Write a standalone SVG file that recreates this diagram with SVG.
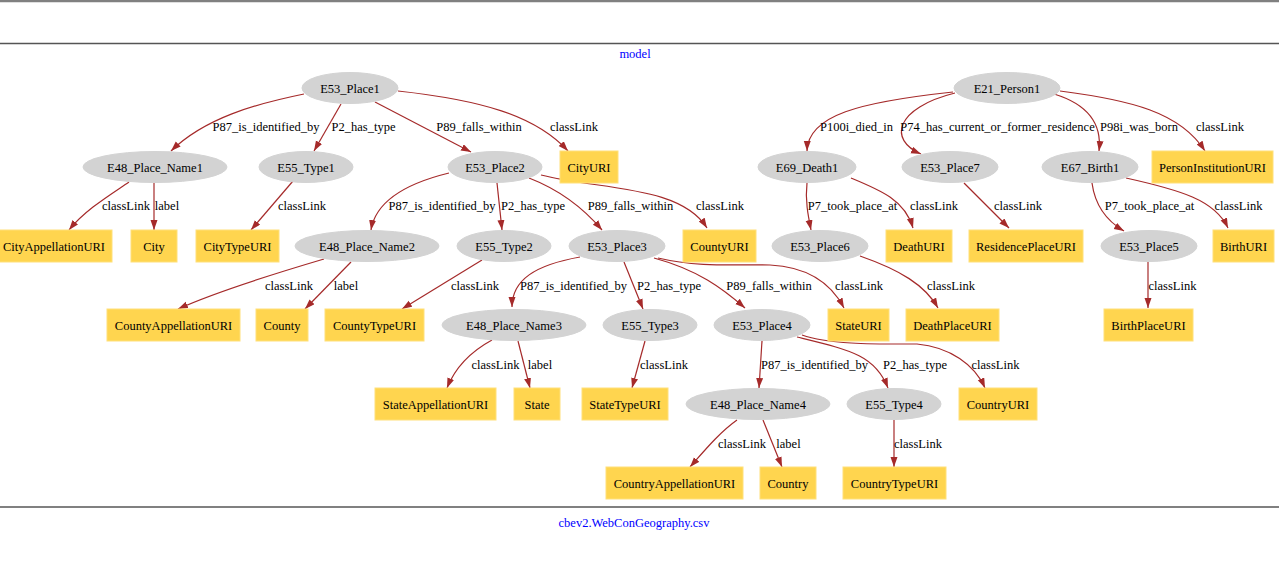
<svg xmlns="http://www.w3.org/2000/svg" width="1279" height="569" viewBox="0 0 1279 569">
<style>
text{font-family:"Liberation Serif","Times New Roman",serif;font-size:12.5px;fill:#000}
.t{text-anchor:middle}
.blue{fill:#0000ff}
ellipse{fill:#d3d3d3;stroke:#d3d3d3}
rect.b{fill:#ffd54f;stroke:#ffe07a}
#edges path{fill:none;stroke:#a52a2a;stroke-width:1.2;marker-end:url(#ah)}
</style>
<defs>
<marker id="ah" markerUnits="userSpaceOnUse" markerWidth="10" markerHeight="8" refX="10" refY="3.5" orient="auto">
<path d="M0,0 L10,3.5 L0,7 z" fill="#a52a2a"/>
</marker>
</defs>
<rect x="0" y="0" width="1279" height="569" fill="#fff"/>
<line x1="0" y1="1" x2="1279" y2="1" stroke="#808080" stroke-width="2.5"/>
<line x1="0" y1="43.5" x2="1279" y2="43.5" stroke="#555" stroke-width="1.5"/>
<line x1="0" y1="507" x2="1279" y2="507" stroke="#808080" stroke-width="2"/>
<text class="t blue" x="635" y="58">model</text>
<text class="t blue" x="634" y="527">cbev2.WebConGeography.csv</text>

<g id="edges">
<path d="M304,94 C255,104 205,118 171,151"/>
<path d="M341,104 L314,151"/>
<path d="M375,102 L471,152"/>
<path d="M398,91 C480,100 535,115 568,151"/>
<path d="M953,92 C860,102 808,115 807,151"/>
<path d="M955,93 C895,108 888,140 921,154"/>
<path d="M1054,94 C1090,105 1102,125 1099,151"/>
<path d="M1060,91 C1130,100 1180,112 1205,151"/>
<path d="M129,182 C110,195 85,210 69,230"/>
<path d="M154,183 L154,230"/>
<path d="M293,181 L251,230"/>
<path d="M449,173 C400,185 375,205 371,230"/>
<path d="M497,183 L502,230"/>
<path d="M529,178 C560,190 585,210 602,230"/>
<path d="M541,175 C600,190 680,185 707,228"/>
<path d="M324,259 C280,272 220,290 178,309"/>
<path d="M351,262 L305,309"/>
<path d="M482,260 L402,309"/>
<path d="M580,257 C535,265 512,280 512,307"/>
<path d="M624,262 L643,309"/>
<path d="M654,258 C698,270 722,288 745,308"/>
<path d="M658,258 C700,268 740,264 770,265 C810,267 832,285 844,308"/>
<path d="M807,183 C805,200 808,215 811,230"/>
<path d="M851,178 C880,190 905,200 913,228"/>
<path d="M964,183 L1009,228"/>
<path d="M1092,183 C1095,205 1105,220 1124,231"/>
<path d="M1126,178 C1180,190 1215,200 1228,228"/>
<path d="M860,256 C900,270 925,285 938,308"/>
<path d="M1148,262 L1148,308"/>
<path d="M492,340 C470,352 455,368 447,388"/>
<path d="M518,341 L530,388"/>
<path d="M645,341 L632,388"/>
<path d="M762,341 L759,388"/>
<path d="M797,337 C850,350 875,355 888,388"/>
<path d="M802,335 C830,345 880,344 917,344 C950,347 975,365 985,388"/>
<path d="M737,420 C720,432 705,450 690,467"/>
<path d="M763,420 L782,467"/>
<path d="M894,420 L894,467"/>
</g>
<g id="edge-labels">
<text class="t" x="266" y="131">P87_is_identified_by</text>
<text class="t" x="363.5" y="131">P2_has_type</text>
<text class="t" x="479" y="131">P89_falls_within</text>
<text class="t" x="574" y="131">classLink</text>
<text class="t" x="856.5" y="131">P100i_died_in</text>
<text class="t" x="997.5" y="131">P74_has_current_or_former_residence</text>
<text class="t" x="1139" y="131">P98i_was_born</text>
<text class="t" x="1220" y="131">classLink</text>
<text class="t" x="126" y="210">classLink</text>
<text class="t" x="167" y="210">label</text>
<text class="t" x="302" y="210">classLink</text>
<text class="t" x="442" y="210">P87_is_identified_by</text>
<text class="t" x="533" y="210">P2_has_type</text>
<text class="t" x="630.5" y="210">P89_falls_within</text>
<text class="t" x="720" y="210">classLink</text>
<text class="t" x="852.5" y="210">P7_took_place_at</text>
<text class="t" x="934" y="210">classLink</text>
<text class="t" x="1018" y="210">classLink</text>
<text class="t" x="1149.5" y="210">P7_took_place_at</text>
<text class="t" x="1238.5" y="210">classLink</text>
<text class="t" x="289" y="290">classLink</text>
<text class="t" x="346" y="290">label</text>
<text class="t" x="475" y="290">classLink</text>
<text class="t" x="573.5" y="290">P87_is_identified_by</text>
<text class="t" x="669" y="290">P2_has_type</text>
<text class="t" x="769" y="290">P89_falls_within</text>
<text class="t" x="859" y="290">classLink</text>
<text class="t" x="951" y="290">classLink</text>
<text class="t" x="1172.5" y="290">classLink</text>
<text class="t" x="495.5" y="369">classLink</text>
<text class="t" x="540" y="369">label</text>
<text class="t" x="664" y="369">classLink</text>
<text class="t" x="814.5" y="369">P87_is_identified_by</text>
<text class="t" x="915" y="369">P2_has_type</text>
<text class="t" x="995.5" y="369">classLink</text>
<text class="t" x="742" y="448">classLink</text>
<text class="t" x="788.5" y="448">label</text>
<text class="t" x="918" y="448">classLink</text>
</g>

<g id="E53_Place1"><ellipse cx="350" cy="88" rx="48" ry="15.5"/><text class="t" x="350" y="92.5">E53_Place1</text></g>
<g id="E21_Person1"><ellipse cx="1007" cy="88" rx="53" ry="15.5"/><text class="t" x="1007" y="92.5">E21_Person1</text></g>
<g id="E48_Place_Name1"><ellipse cx="155" cy="167" rx="72" ry="15.5"/><text class="t" x="155" y="171.5">E48_Place_Name1</text></g>
<g id="E55_Type1"><ellipse cx="306" cy="167" rx="47" ry="15.5"/><text class="t" x="306" y="171.5">E55_Type1</text></g>
<g id="E53_Place2"><ellipse cx="495" cy="167" rx="47" ry="15.5"/><text class="t" x="495" y="171.5">E53_Place2</text></g>
<g id="CityURI"><rect class="b" x="560" y="151" width="58" height="32"/><text class="t" x="589" y="171.5">CityURI</text></g>
<g id="E69_Death1"><ellipse cx="807" cy="167" rx="49" ry="15.5"/><text class="t" x="807" y="171.5">E69_Death1</text></g>
<g id="E53_Place7"><ellipse cx="950" cy="167" rx="48" ry="15.5"/><text class="t" x="950" y="171.5">E53_Place7</text></g>
<g id="E67_Birth1"><ellipse cx="1090" cy="167" rx="48" ry="15.5"/><text class="t" x="1090" y="171.5">E67_Birth1</text></g>
<g id="PersonInstitutionURI"><rect class="b" x="1152" y="151" width="121" height="32"/><text class="t" x="1212.5" y="171.5">PersonInstitutionURI</text></g>

<g id="CityAppellationURI"><rect class="b" x="-5" y="230" width="117" height="32"/><text class="t" x="54" y="250.5">CityAppellationURI</text></g>
<g id="City"><rect class="b" x="131" y="230" width="46" height="32"/><text class="t" x="154" y="250.5">City</text></g>
<g id="CityTypeURI"><rect class="b" x="196" y="230" width="83" height="32"/><text class="t" x="237.5" y="250.5">CityTypeURI</text></g>
<g id="E48_Place_Name2"><ellipse cx="367" cy="246" rx="72" ry="15.5"/><text class="t" x="367" y="250.5">E48_Place_Name2</text></g>
<g id="E55_Type2"><ellipse cx="504" cy="246" rx="47" ry="15.5"/><text class="t" x="504" y="250.5">E55_Type2</text></g>
<g id="E53_Place3"><ellipse cx="617" cy="246" rx="48" ry="15.5"/><text class="t" x="617" y="250.5">E53_Place3</text></g>
<g id="CountyURI"><rect class="b" x="683" y="230" width="73" height="32"/><text class="t" x="719.5" y="250.5">CountyURI</text></g>
<g id="E53_Place6"><ellipse cx="820" cy="246" rx="48" ry="15.5"/><text class="t" x="820" y="250.5">E53_Place6</text></g>
<g id="DeathURI"><rect class="b" x="886" y="230" width="66" height="32"/><text class="t" x="919" y="250.5">DeathURI</text></g>
<g id="ResidencePlaceURI"><rect class="b" x="969" y="230" width="114" height="32"/><text class="t" x="1026" y="250.5">ResidencePlaceURI</text></g>
<g id="E53_Place5"><ellipse cx="1149" cy="246" rx="48" ry="15.5"/><text class="t" x="1149" y="250.5">E53_Place5</text></g>
<g id="BirthURI"><rect class="b" x="1213" y="230" width="61" height="32"/><text class="t" x="1243.5" y="250.5">BirthURI</text></g>

<g id="CountyAppellationURI"><rect class="b" x="107" y="309" width="133" height="32"/><text class="t" x="173.5" y="329.5">CountyAppellationURI</text></g>
<g id="County"><rect class="b" x="256" y="309" width="52" height="32"/><text class="t" x="282" y="329.5">County</text></g>
<g id="CountyTypeURI"><rect class="b" x="325" y="309" width="99" height="32"/><text class="t" x="374.5" y="329.5">CountyTypeURI</text></g>
<g id="E48_Place_Name3"><ellipse cx="514" cy="325" rx="72" ry="15.5"/><text class="t" x="514" y="329.5">E48_Place_Name3</text></g>
<g id="E55_Type3"><ellipse cx="650" cy="325" rx="47" ry="15.5"/><text class="t" x="650" y="329.5">E55_Type3</text></g>
<g id="E53_Place4"><ellipse cx="762" cy="325" rx="48" ry="15.5"/><text class="t" x="762" y="329.5">E53_Place4</text></g>
<g id="StateURI"><rect class="b" x="828" y="309" width="61" height="32"/><text class="t" x="858.5" y="329.5">StateURI</text></g>
<g id="DeathPlaceURI"><rect class="b" x="906" y="309" width="93" height="32"/><text class="t" x="952.5" y="329.5">DeathPlaceURI</text></g>
<g id="BirthPlaceURI"><rect class="b" x="1104" y="309" width="89" height="32"/><text class="t" x="1148.5" y="329.5">BirthPlaceURI</text></g>

<g id="StateAppellationURI"><rect class="b" x="375" y="388" width="121" height="32"/><text class="t" x="435.5" y="408.5">StateAppellationURI</text></g>
<g id="State"><rect class="b" x="514" y="388" width="46" height="32"/><text class="t" x="537" y="408.5">State</text></g>
<g id="StateTypeURI"><rect class="b" x="582" y="388" width="86" height="32"/><text class="t" x="625" y="408.5">StateTypeURI</text></g>
<g id="E48_Place_Name4"><ellipse cx="758" cy="404" rx="72" ry="15.5"/><text class="t" x="758" y="408.5">E48_Place_Name4</text></g>
<g id="E55_Type4"><ellipse cx="894" cy="404" rx="47" ry="15.5"/><text class="t" x="894" y="408.5">E55_Type4</text></g>
<g id="CountryURI"><rect class="b" x="959" y="388" width="78" height="32"/><text class="t" x="998" y="408.5">CountryURI</text></g>

<g id="CountryAppellationURI"><rect class="b" x="606" y="467" width="137" height="32"/><text class="t" x="674.5" y="487.5">CountryAppellationURI</text></g>
<g id="Country"><rect class="b" x="760" y="467" width="56" height="32"/><text class="t" x="788" y="487.5">Country</text></g>
<g id="CountryTypeURI"><rect class="b" x="843" y="467" width="103" height="32"/><text class="t" x="894.5" y="487.5">CountryTypeURI</text></g>
</svg>
